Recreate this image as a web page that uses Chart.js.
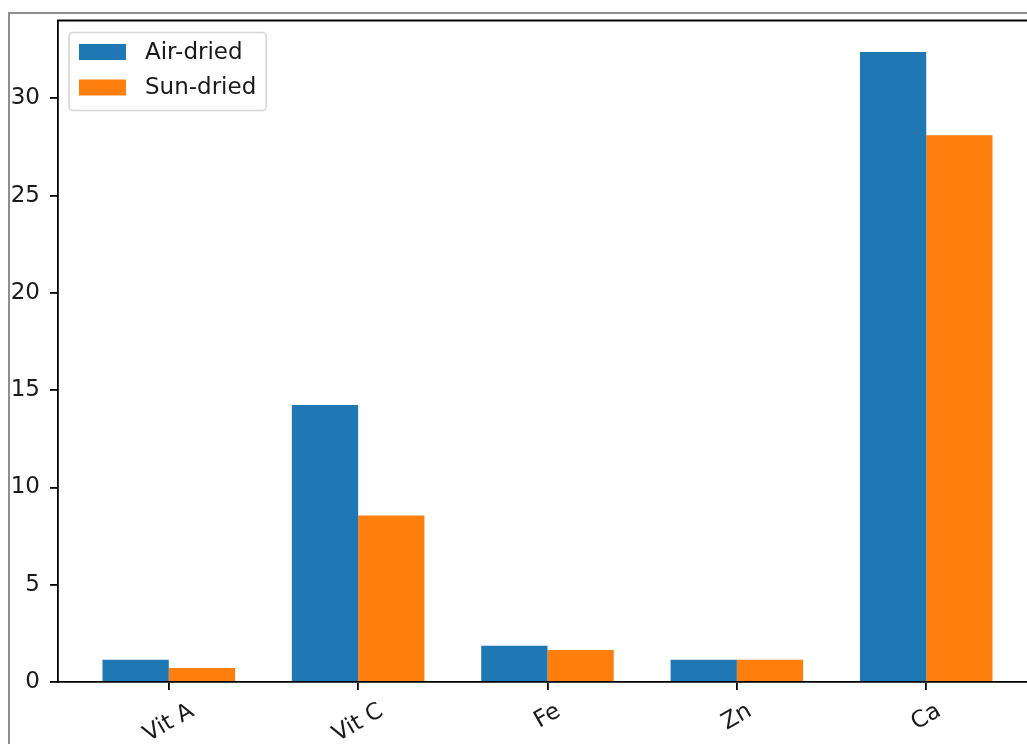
<!DOCTYPE html>
<html>
<head>
<meta charset="utf-8">
<script src="https://cdn.jsdelivr.net/npm/chart.js@4/dist/chart.umd.min.js"></script>
<style>
  html, body { margin: 0; padding: 0; background: #fff; overflow: hidden; width: 1027px; height: 744px; }
  #frame { position: absolute; left: 8px; top: 12px; width: 1100px; height: 800px;
           border-left: 2px solid #8e8e8e; border-top: 2px solid #8e8e8e; }
  #wrap { position: absolute; left: 0; top: 0; width: 1045px; height: 744px; }
</style>
</head>
<body>
<div id="frame"></div>
<div id="wrap"><canvas id="c" width="1045" height="744"></canvas></div>
<script>
// Nutrient content by drying method
const categories = ['Vit A', 'Vit C', 'Fe', 'Zn', 'Ca'];
const airDried = [1.15, 14.24, 1.86, 1.15, 32.38];
const sunDried = [0.72, 8.56, 1.65, 1.15, 28.10];
const yTicks = [0, 5, 10, 15, 20, 25, 30];
const seriesNames = ['Air-dried', 'Sun-dried'];
const seriesColors = ['#1f77b4', '#ff7f0e'];

const FONT = '"DejaVu Sans", sans-serif';
const FS = 23;
const INK = '#1a1a1a';
const barWidth = 0.35;
const span = (categories.length - 1) + 2 * barWidth;
const xMin = -barWidth - 0.05 * span;
const xMax = (categories.length - 1) + barWidth + 0.05 * span;
const yMax = Math.max(...airDried, ...sunDried) * 1.05;

// top/right spines of the axes box
const boxSpines = {
  id: 'boxSpines',
  afterDraw(chart) {
    const { ctx, chartArea: a } = chart;
    ctx.save();
    ctx.strokeStyle = '#000';
    ctx.lineWidth = 1.8;
    ctx.beginPath();
    ctx.moveTo(a.left - 0.9, a.top);
    ctx.lineTo(a.right, a.top);
    ctx.lineTo(a.right, a.bottom);
    ctx.stroke();
    ctx.restore();
  }
};

// rotated category labels centred under each tick
const rotatedLabels = {
  id: 'rotatedLabels',
  afterDraw(chart) {
    const { ctx, chartArea: a } = chart;
    const xs = chart.scales.x;
    const rot = 30 * Math.PI / 180;
    ctx.save();
    ctx.font = FS + 'px ' + FONT;
    ctx.fillStyle = INK;
    ctx.textAlign = 'center';
    ctx.textBaseline = 'middle';
    xs.ticks.forEach(t => {
      const label = categories[t.value];
      const px = xs.getPixelForValue(t.value);
      const w = ctx.measureText(label).width;
      const lh = FS * 1.17;
      const bh = w * Math.sin(rot) + lh * Math.cos(rot);
      const cy = a.bottom + 16 + bh / 2;
      ctx.save();
      ctx.translate(px, cy);
      ctx.rotate(-rot);
      ctx.fillText(label, 0, 0);
      ctx.restore();
    });
    ctx.restore();
  }
};

// framed legend in the upper-left corner of the plot area
const boxLegend = {
  id: 'boxLegend',
  afterDraw(chart) {
    const { ctx, chartArea: a } = chart;
    const items = chart.data.datasets.map(d => ({ text: d.label, color: d.backgroundColor }));
    ctx.save();
    ctx.font = FS + 'px ' + FONT;
    const textW = Math.max(...items.map(it => ctx.measureText(it.text).width));
    const x0 = a.left + 11, y0 = a.top + 12;
    const padL = 10, hw = 47, hh = 16, textOff = 76, pitch = 35.5, firstRow = 19.5, bottomPad = 23;
    const w = textOff + textW + 10;
    const h = firstRow + pitch * (items.length - 1) + bottomPad;
    const r = 4;
    ctx.beginPath();
    ctx.moveTo(x0 + r, y0);
    ctx.lineTo(x0 + w - r, y0);
    ctx.arcTo(x0 + w, y0, x0 + w, y0 + r, r);
    ctx.lineTo(x0 + w, y0 + h - r);
    ctx.arcTo(x0 + w, y0 + h, x0 + w - r, y0 + h, r);
    ctx.lineTo(x0 + r, y0 + h);
    ctx.arcTo(x0, y0 + h, x0, y0 + h - r, r);
    ctx.lineTo(x0, y0 + r);
    ctx.arcTo(x0, y0, x0 + r, y0, r);
    ctx.closePath();
    ctx.fillStyle = 'rgba(255,255,255,0.8)';
    ctx.fill();
    ctx.strokeStyle = '#d6d6d6';
    ctx.lineWidth = 1.6;
    ctx.stroke();
    ctx.textAlign = 'left';
    ctx.textBaseline = 'middle';
    items.forEach((it, i) => {
      const cy = y0 + firstRow + i * pitch;
      ctx.fillStyle = it.color;
      ctx.fillRect(x0 + padL, cy - hh / 2, hw, hh);
      ctx.fillStyle = INK;
      ctx.fillText(it.text, x0 + textOff, cy + 1);
    });
    ctx.restore();
  }
};

const toPoints = vals => categories.map((c, i) => ({ x: i, y: vals[i] }));

new Chart(document.getElementById('c'), {
  type: 'bar',
  data: {
    datasets: [
      { label: seriesNames[0], data: toPoints(airDried), backgroundColor: seriesColors[0], borderWidth: 0 },
      { label: seriesNames[1], data: toPoints(sunDried), backgroundColor: seriesColors[1], borderWidth: 0 }
    ]
  },
  options: {
    responsive: false,
    animation: false,
    devicePixelRatio: 1,
    layout: { padding: { left: 0, top: 20.5, right: 8, bottom: 0 } },
    categoryPercentage: 2 * barWidth,
    barPercentage: 1.0,
    plugins: { legend: { display: false }, tooltip: { enabled: false }, title: { display: false } },
    scales: {
      x: {
        type: 'linear',
        min: xMin,
        max: xMax,
        offset: false,
        z: 1,
        afterBuildTicks: s => { s.ticks = categories.map((c, i) => ({ value: i })); },
        afterFit: s => { s.height = 62; s.paddingLeft = 0; s.paddingRight = 0; },
        grid: { offset: false, drawOnChartArea: false, drawTicks: true, tickLength: 8, color: '#000', lineWidth: 1.8 },
        border: { display: true, color: '#000', width: 1.8 },
        ticks: { color: 'rgba(0,0,0,0)', maxRotation: 0, minRotation: 0, autoSkip: false,
                 font: { family: FONT, size: FS }, callback: v => categories[v] }
      },
      y: {
        min: 0,
        max: yMax,
        z: 1,
        afterBuildTicks: s => { s.ticks = yTicks.map(v => ({ value: v })); },
        afterFit: s => { s.width = 58; s.paddingTop = 0; s.paddingBottom = 0; },
        grid: { drawOnChartArea: false, drawTicks: true, tickLength: 8, color: '#000', lineWidth: 1.8 },
        border: { display: true, color: '#000', width: 1.8 },
        ticks: { color: INK, padding: 10, font: { family: FONT, size: FS }, callback: v => String(v) }
      }
    }
  },
  plugins: [boxSpines, rotatedLabels, boxLegend]
});
</script>
</body>
</html>
